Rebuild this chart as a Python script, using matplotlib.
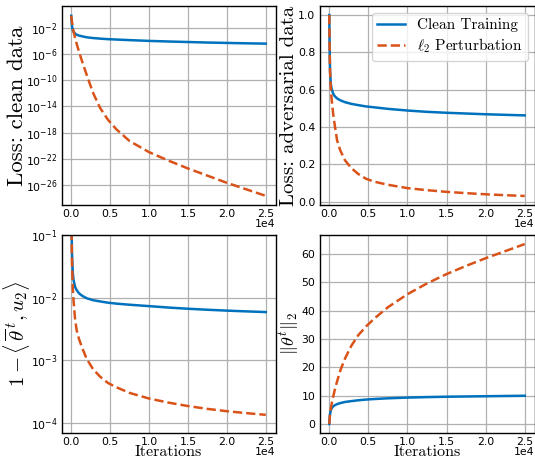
import numpy as np
import matplotlib
matplotlib.use('Agg')
import matplotlib.pyplot as plt

plt.rcParams['mathtext.fontset'] = 'cm'

iters = np.array([0, 50, 100, 200, 300, 500, 700, 1000, 1400, 2000, 2800, 3700, 4700,
                  5800, 7500, 10000, 12500, 15000, 17500, 20000, 22500, 25000])

# loss on clean data (log10)
clean_loss_clean = [-0.1, -1.0, -1.7, -2.3, -2.55, -2.82, -3.0, -3.13, -3.25, -3.4, -3.51,
                    -3.6, -3.68, -3.74, -3.83, -3.95, -4.04, -4.12, -4.2, -4.26, -4.32, -4.37]
clean_loss_l2 = [-0.1, -0.6, -1.05, -1.8, -2.5, -3.5, -4.4, -5.6, -7.1, -9.2, -11.9,
                 -14.2, -16.0, -17.5, -19.3, -21.0, -22.3, -23.5, -24.6, -25.7, -26.7, -27.7]

# loss on adversarial data
adv_loss_clean = [1.0, 0.82, 0.7, 0.63, 0.605, 0.578, 0.565, 0.553, 0.543, 0.533, 0.524,
                  0.517, 0.51, 0.505, 0.497, 0.488, 0.481, 0.476, 0.472, 0.468, 0.465, 0.462]
adv_loss_l2 = [1.0, 0.8, 0.7, 0.6, 0.55, 0.47, 0.41, 0.328, 0.275, 0.222, 0.18,
               0.148, 0.122, 0.106, 0.09, 0.072, 0.061, 0.052, 0.045, 0.039, 0.034, 0.03]

# 1 - <theta_bar, u2> (log10)
align_clean = [-0.3, -0.9, -1.3, -1.6, -1.72, -1.83, -1.88, -1.93, -1.97, -2.01, -2.04,
               -2.06, -2.08, -2.095, -2.113, -2.135, -2.158, -2.177, -2.193, -2.207, -2.219, -2.23]
align_l2 = [-0.3, -1.0, -1.45, -1.85, -2.05, -2.35, -2.52, -2.66, -2.8, -2.98, -3.14,
            -3.26, -3.36, -3.43, -3.52, -3.61, -3.675, -3.73, -3.775, -3.812, -3.843, -3.87]

# parameter norm ||theta||_2
norm_clean = [0, 2.2, 3.5, 4.8, 5.5, 6.2, 6.6, 7.0, 7.35, 7.75, 8.05,
              8.35, 8.6, 8.8, 9.05, 9.3, 9.47, 9.6, 9.7, 9.78, 9.87, 9.95]
norm_l2 = [0, 2.0, 3.5, 5.5, 7.0, 9.6, 12.0, 15.0, 18.8, 23.0, 27.5,
           31.3, 34.4, 37.3, 41.2, 45.8, 49.6, 52.9, 55.8, 58.5, 61.0, 63.5]

BLUE = '#0072BD'
ORANGE = '#D95319'
W, H = 535, 459

fig = plt.figure(figsize=(W / 100, H / 100), dpi=100)


def make_ax(x0, y0, x1, y1):
    # pixel box -> figure fraction
    return fig.add_axes([x0 / W, 1 - y1 / H, (x1 - x0) / W, (y1 - y0) / H])


ax_tl = make_ax(61.5, 6, 275.5, 205)
ax_tr = make_ax(319.5, 6, 534.5, 205)
ax_bl = make_ax(61.5, 235, 275.5, 433)
ax_br = make_ax(319.5, 235, 534.5, 433)

# axes, clean curve, l2 curve, y label, label size, label x (axes coords)
panels = [
    (ax_tl, 10.0 ** np.array(clean_loss_clean), 10.0 ** np.array(clean_loss_l2),
     'Loss: clean data', 16.5, -0.161),
    (ax_tr, adv_loss_clean, adv_loss_l2, 'Loss: adversarial data', 15, -0.1),
    (ax_bl, 10.0 ** np.array(align_clean), 10.0 ** np.array(align_l2),
     r'$1-\langle\,\overline{\theta}^{\,t}, u_2\rangle$', 15, -0.14),
    (ax_br, norm_clean, norm_l2, r'$\|\theta^t\|_2$', 13, -0.085),
]

for ax, yc, yl, lab, fs, lx in panels:
    ax.plot(iters, yc, color=BLUE, lw=1.8, label='Clean Training')
    ax.plot(iters, yl, color=ORANGE, lw=1.8, ls='--', label=r'$\ell_2$ Perturbation')
    ax.set_ylabel(lab, fontsize=fs, fontfamily='cmr10')
    ax.yaxis.set_label_coords(lx, 0.5)
    ax.grid(True, color='#b0b0b0', lw=0.9)
    ax.tick_params(length=0, labelsize=7.8, pad=3)
    for s in ax.spines.values():
        s.set_color('black')
        s.set_linewidth(1.0)
    ax.ticklabel_format(axis='x', style='sci', scilimits=(0, 0))
    ax.xaxis.get_offset_text().set_fontsize(7.8)
    ax.xaxis.OFFSETTEXTPAD = 0  # 1e4 sits close under the tick labels
    ax.set_xlim(-1250, 26250)

ax_tl.set_yscale('log')
ax_tl.set_ylim(10 ** -29.1, 10 ** 1.4)
ax_tl.set_yticks(10.0 ** np.arange(-26, 0, 4))
ax_tl.minorticks_off()

ax_bl.set_yscale('log')
ax_bl.set_ylim(10 ** -4.16, 1e-1)
ax_bl.set_yticks([1e-4, 1e-3, 1e-2, 1e-1])
ax_bl.minorticks_off()

ax_tr.set_ylim(-0.0185, 1.0485)
ax_br.set_ylim(-3.2, 66.7)

for ax in (ax_bl, ax_br):
    ax.set_xlabel('Iterations', fontsize=11.5, fontfamily='cmr10')
    ax.xaxis.set_label_coords(0.5, -0.064)

ax_tr.legend(loc='upper right', prop={'family': 'cmr10', 'size': 11},
             handlelength=1.8, labelspacing=0.3, borderpad=0.35, borderaxespad=0.45)

fig.savefig('out.png', dpi=100)
